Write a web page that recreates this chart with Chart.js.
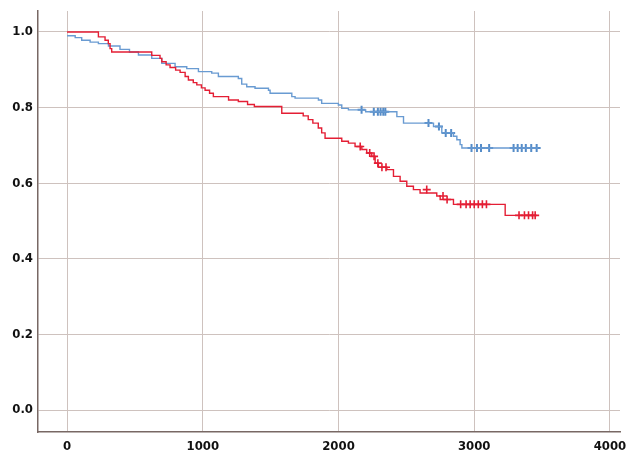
<!DOCTYPE html>
<html>
<head>
<meta charset="utf-8">
<script src="https://cdn.jsdelivr.net/npm/chart.js@4/dist/chart.umd.min.js"></script>
<style>
  html, body { margin: 0; padding: 0; background: #fff; }
  #ChartHolder { display: block; }
</style>
</head>
<body>
<canvas id="ChartHolder" width="626" height="451"></canvas>
<script>
// tick labels
var xTicks = [0, 1000, 2000, 3000, 4000];
var yTicks = [0.0, 0.2, 0.4, 0.6, 0.8, 1.0];

// red group: event times and survival after each step
var redTimes = [0, 231, 280, 304, 317, 329, 624, 685, 698, 730, 759, 800, 833, 870, 894, 930, 956, 990, 1017, 1050, 1078, 1190, 1262, 1330, 1380, 1582, 1740, 1777, 1811, 1851, 1876, 1901, 2024, 2073, 2122, 2172, 2208, 2245, 2270, 2294, 2356, 2405, 2454, 2503, 2552, 2601, 2724, 2749, 2847, 3228, 3449];
var redSurv = [1.0, 0.987, 0.978, 0.969, 0.956, 0.947, 0.938, 0.930, 0.921, 0.913, 0.906, 0.899, 0.893, 0.882, 0.873, 0.866, 0.860, 0.852, 0.846, 0.838, 0.829, 0.820, 0.816, 0.808, 0.803, 0.785, 0.778, 0.768, 0.759, 0.746, 0.733, 0.719, 0.711, 0.706, 0.697, 0.689, 0.680, 0.671, 0.653, 0.642, 0.636, 0.618, 0.605, 0.592, 0.583, 0.574, 0.566, 0.557, 0.544, 0.515, 0.515];
// red censored
var redCensTimes = [2160, 2230, 2262, 2290, 2320, 2350, 2650, 2770, 2800, 2900, 2940, 2970, 3000, 3030, 3060, 3090, 3330, 3370, 3400, 3430, 3449];
var redCensSurv = [0.697, 0.680, 0.671, 0.653, 0.642, 0.642, 0.583, 0.566, 0.557, 0.544, 0.544, 0.544, 0.544, 0.544, 0.544, 0.544, 0.515, 0.515, 0.515, 0.515, 0.515];

// blue group
var blueTimes = [0, 60, 108, 170, 231, 305, 390, 460, 526, 624, 698, 796, 882, 968, 1066, 1115, 1262, 1287, 1324, 1385, 1484, 1496, 1656, 1680, 1852, 1876, 1999, 2024, 2073, 2200, 2430, 2479, 2700, 2761, 2847, 2872, 2896, 2909, 3471];
var blueSurv = [0.990, 0.985, 0.978, 0.973, 0.969, 0.963, 0.954, 0.947, 0.939, 0.930, 0.917, 0.908, 0.903, 0.895, 0.891, 0.882, 0.877, 0.862, 0.855, 0.851, 0.846, 0.838, 0.829, 0.825, 0.820, 0.811, 0.807, 0.798, 0.794, 0.789, 0.776, 0.759, 0.750, 0.733, 0.724, 0.715, 0.702, 0.693, 0.693];
var blueCensTimes = [2170, 2260, 2290, 2310, 2330, 2345, 2663, 2740, 2790, 2830, 2980, 3020, 3050, 3110, 3290, 3320, 3350, 3380, 3420, 3460];
var blueCensSurv = [0.794, 0.789, 0.789, 0.789, 0.789, 0.789, 0.759, 0.750, 0.733, 0.733, 0.693, 0.693, 0.693, 0.693, 0.693, 0.693, 0.693, 0.693, 0.693, 0.693];

function toPoints(xs, ys) {
    var pts = [];
    for (var i = 0; i < xs.length; i++) {
        pts.push({ x: xs[i], y: ys[i] });
    }
    return pts;
}

var redColor = 'rgb(228, 30, 52)';
var blueColor = 'rgb(105, 155, 210)';
var gridColor = 'rgb(206, 194, 190)';
var axisColor = 'rgb(120, 104, 100)';
var tickFont = { family: '"DejaVu Sans Condensed", "DejaVu Sans", sans-serif', size: 13, weight: 'bold' };

var ctx = document.getElementById('ChartHolder');

var chartConfig = {
    type: 'scatter',
    data: {
        datasets: [{
            label: 'blue',
            data: toPoints(blueTimes, blueSurv),
            showLine: true,
            stepped: true,
            borderColor: blueColor,
            borderWidth: 1.4,
            pointRadius: 0,
            order: 2
        }, {
            label: 'blue censored',
            data: toPoints(blueCensTimes, blueCensSurv),
            pointStyle: 'cross',
            radius: 4,
            borderColor: 'rgb(85, 140, 200)',
            borderWidth: 2,
            order: 2
        }, {
            label: 'red',
            data: toPoints(redTimes, redSurv),
            showLine: true,
            stepped: true,
            borderColor: redColor,
            borderWidth: 1.4,
            pointRadius: 0,
            order: 1
        }, {
            label: 'red censored',
            data: toPoints(redCensTimes, redCensSurv),
            pointStyle: 'cross',
            radius: 4,
            borderColor: redColor,
            borderWidth: 1.6,
            order: 1
        }]
    },
    options: {
        responsive: false,
        animation: false,
        layout: { padding: { top: 11, right: 0, left: 0, bottom: 0 } },
        plugins: {
            legend: { display: false },
            tooltip: { enabled: false }
        },
        scales: {
            x: {
                type: 'linear',
                position: 'bottom',
                min: -214,
                max: 4074,
                afterBuildTicks: function (scale) {
                    scale.ticks = xTicks.map(function (v) { return { value: v }; });
                },
                afterFit: function (scale) {
                    scale.height = 19;
                    scale.paddingRight = 0;
                    scale.paddingLeft = 0;
                },
                ticks: {
                    color: '#111',
                    font: tickFont,
                    padding: 7,
                    maxRotation: 0,
                    callback: function (v) { return String(v); }
                },
                grid: { color: gridColor, lineWidth: 1, drawTicks: false },
                border: { color: axisColor, width: 1.5 }
            },
            y: {
                type: 'linear',
                min: -0.058,
                max: 1.0554,
                afterBuildTicks: function (scale) {
                    scale.ticks = yTicks.map(function (v) { return { value: v }; });
                },
                afterFit: function (scale) {
                    scale.width = 38;
                    scale.paddingTop = 0;
                    scale.paddingBottom = 0;
                },
                ticks: {
                    color: '#111',
                    font: tickFont,
                    padding: 5,
                    callback: function (v) { return v.toFixed(1); }
                },
                grid: { color: gridColor, lineWidth: 1, drawTicks: false },
                border: { color: axisColor, width: 1.5 }
            }
        }
    }
};

var currentChart = new Chart(ctx, chartConfig);
</script>
</body>
</html>
